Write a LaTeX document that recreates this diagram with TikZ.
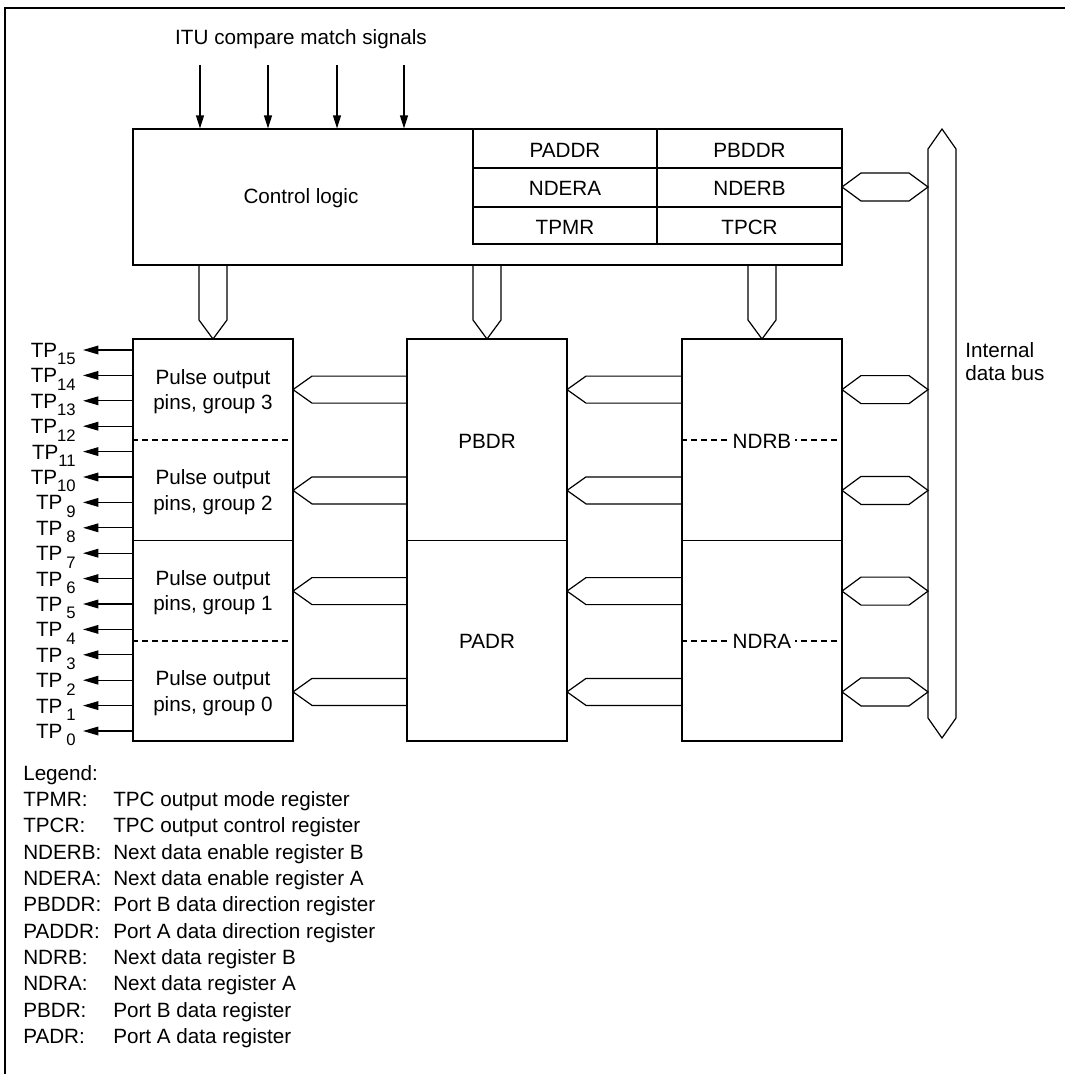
\documentclass[tikz,border=0pt]{standalone}
\usepackage{fontspec}
\setmainfont{Liberation Sans}
\usetikzlibrary{arrows.meta,fit}
\newcommand\tptwo[1]{TP\raisebox{-5.5pt}{\fontsize{12.5pt}{13pt}\selectfont #1}}
\newcommand\tpone[1]{TP\hspace{3pt}\raisebox{-5.5pt}{\fontsize{12.5pt}{13pt}\selectfont #1}}
\begin{document}
\begin{tikzpicture}[x=0.75pt,y=-0.75pt,
  lbl/.style={font=\fontsize{15.5pt}{19pt}\selectfont, inner sep=0pt, anchor=base},
  box/.style={draw, line width=0.9pt, inner sep=0pt},
  ln/.style={line width=0.9pt},
  dsh/.style={line width=0.8pt, dash pattern=on 4.5pt off 3pt},
  sig/.style={line width=0.9pt, -{Triangle[length=9.75pt,width=6pt]}},
  tparr/.style={line width=0.9pt, -{Triangle[length=11.5pt,width=6.5pt]}},
  fat/.style={line width=0.9pt, line join=miter}
]
\useasboundingbox (0,0) rectangle (1065,1074);
% frame
\draw[line width=1.8pt, line join=miter] (5,1074) -- (5,8) -- (1065,8);

% title and signals
\node[lbl] (title) at (301,45) {ITU compare match signals};
\node[box, fit={(133,129) (842,265)}] (ctrl) {};
\foreach \x [count=\k] in {200,268,337,404} {
  \coordinate (s\k) at (\x,65);
  \draw[sig] (s\k) -- (s\k |- ctrl.north);
}
\node[lbl] (ctrltxt) at (301,203) {Control logic};

% register table
\node[box, fit={(473,129) (657,168)}] (paddr) {};
\node[box, fit={(657,129) (842,168)}] (pbddr) {};
\node[box, fit={(473,168) (657,207)}] (ndera) {};
\node[box, fit={(657,168) (842,207)}] (nderb) {};
\node[box, fit={(473,207) (657,244)}] (tpmr) {};
\node[box, fit={(657,207) (842,244)}] (tpcr) {};
\node[lbl] at (565,157) {PADDR};
\node[lbl] at (749.5,157) {PBDDR};
\node[lbl] at (565,195.5) {NDERA};
\node[lbl] at (749.5,195.5) {NDERB};
\node[lbl] at (565,234) {TPMR};
\node[lbl] at (749.5,234) {TPCR};

% lower boxes
\node[box, fit={(133,339) (293,741)}] (grp) {};
\node[box, fit={(407,339) (567,741)}] (pdr) {};
\node[box, fit={(682,339) (842,741)}] (ndr) {};
\draw[ln] (grp.west |- 0,540.5) -- (grp.east |- 0,540.5);
\draw[ln] (pdr.west |- 0,540.5) -- (pdr.east |- 0,540.5);
\draw[ln] (ndr.west |- 0,540.5) -- (ndr.east |- 0,540.5);
\draw[dsh] (grp.west |- 0,440) -- (grp.east |- 0,440);
\draw[dsh] (grp.west |- 0,641) -- (grp.east |- 0,641);
\draw[dsh] (ndr.west |- 0,440) -- (ndr.east |- 0,440);
\draw[dsh] (ndr.west |- 0,641) -- (ndr.east |- 0,641);
\node[lbl, fill=white, inner xsep=2.5pt] (ndrb) at (762,448.5) {NDRB};
\node[lbl, fill=white, inner xsep=2.5pt] (ndra) at (762,648.5) {NDRA};
\node[lbl] (pbdr) at (487,448.5) {PBDR};
\node[lbl] (padr) at (487,648.5) {PADR};

% group texts
\foreach \g in {0,1,2,3} {
  \pgfmathsetmacro\gc{389.6+100.5*(3-\g)}
  \node[lbl] at (213,\gc-12.7+7.5) {Pulse output};
  \node[lbl] at (213,\gc+12.7+7.5) {pins, group \g};
}

% down fat arrows from control logic
\foreach \cx in {213,487,762} {
  \draw[fat] (\cx-14,265) -- (\cx-14,320) -- (\cx,339) -- (\cx+14,320) -- (\cx+14,265);
}

% horizontal fat arrows
\foreach \yc in {389.6,490.4,591.1,691.9} {
  \draw[fat] (682,\yc-13.5) -- (586,\yc-13.5) -- (567,\yc) -- (586,\yc+13.5) -- (682,\yc+13.5);
  \draw[fat] (407,\yc-13.5) -- (312,\yc-13.5) -- (293,\yc) -- (312,\yc+13.5) -- (407,\yc+13.5);
  \draw[fat] (842,\yc) -- (861,\yc-14) -- (909,\yc-14) -- (928,\yc) -- (909,\yc+14) -- (861,\yc+14) -- cycle;
}
\draw[fat] (842,187) -- (861,173) -- (909,173) -- (928,187) -- (909,201) -- (861,201) -- cycle;

% internal bus
\draw[fat] (928,149) -- (942,129) -- (956,149) -- (956,718) -- (942,738) -- (928,718) -- cycle;
\node[lbl, anchor=base west] (bus1) at (965,357) {Internal};
\node[lbl, anchor=base west] (bus2) at (965,380) {data bus};

% TP pins
\foreach \i in {0,...,15} {
  \pgfmathsetmacro\yy{350+25.4*(15-\i)}
  \coordinate (tpe\i) at (83,\yy);
  \draw[tparr] (grp.west |- tpe\i) -- (tpe\i);
  \node[lbl, anchor=base east] (tp\i) at (76,\yy+7.5) {\ifnum\i<10 \tpone{\i}\else\tptwo{\i}\fi};
}

% legend
\node[lbl, anchor=base west] at (23,780) {Legend:};
\foreach \a/\b [count=\k] in {TPMR:/TPC output mode register,
  TPCR:/TPC output control register,
  NDERB:/Next data enable register B,
  NDERA:/Next data enable register A,
  PBDDR:/Port B data direction register,
  PADDR:/Port A data direction register,
  NDRB:/Next data register B,
  NDRA:/Next data register A,
  PBDR:/Port B data register,
  PADR:/Port A data register} {
  \node[lbl, anchor=base west] at (23,780+26.35*\k) {\a};
  \node[lbl, anchor=base west] at (113,780+26.35*\k) {\b};
}
\end{tikzpicture}
\end{document}
